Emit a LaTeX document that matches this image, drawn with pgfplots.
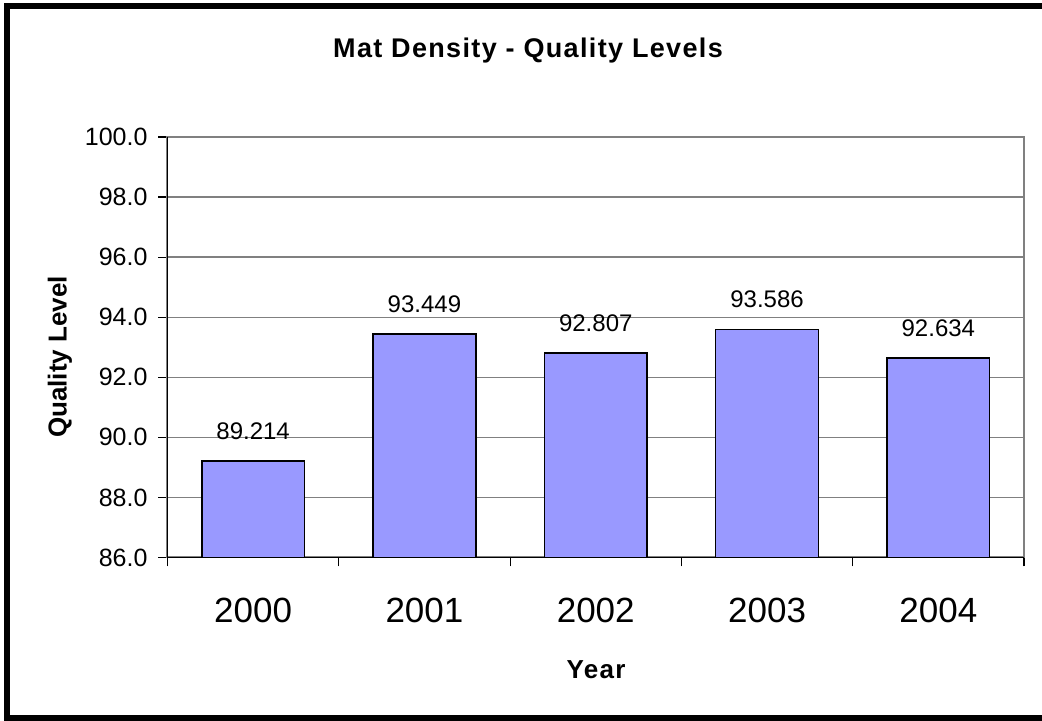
\documentclass[border=0pt]{standalone}
\usepackage{fontspec}
\setmainfont{Liberation Sans}
\newfontfamily\spaced[LetterSpace=5]{Liberation Sans}
\usepackage{pgfplots}
\pgfplotsset{compat=1.18}
\definecolor{barfill}{HTML}{9999FF}
\definecolor{gridgray}{HTML}{808080}

\begin{document}
\begin{tikzpicture}
\useasboundingbox (-83.75pt,-81.75pt) rectangle (437.25pt,278.75pt);
\begin{axis}[
    scale only axis,
    width=428.25pt,
    height=210.25pt,
    ybar,
    bar width=0.6,
    xmin=-0.5, xmax=4.5,
    ymin=86, ymax=100,
    xtick={-0.5,0.5,...,4.5},
    xticklabels={2000,2001,2002,2003,2004},
    x tick label as interval,
    ytick={86,88,...,100},
    yticklabel={\pgfmathprintnumber[fixed,precision=1,zerofill]{\tick}},
    /pgf/number format/assume math mode=true,
    tick align=outside,
    major tick length=4.5pt,
    tick style={black, line width=0.6pt},
    xtick pos=bottom, ytick pos=left,
    ymajorgrids,
    grid style={gridgray, line width=0.7pt},
    axis line style={gridgray, line width=1pt},
    xticklabel style={font=\fontsize{17.5}{20}\selectfont, yshift=-12pt},
    yticklabel style={font=\fontsize{12.5}{14}\selectfont, xshift=-2pt},
    title={\spaced\bfseries Mat Density - Quality Levels},
    title style={font=\fontsize{13.5}{15}\selectfont, at={(axis description cs:0.4209,1.1902)}, anchor=base, yshift=-6pt},
    xlabel={\spaced\bfseries Year},
    xlabel style={font=\fontsize{13}{15}\selectfont, at={(axis description cs:0.5003,-0.2866)}, anchor=base},
    ylabel={\bfseries Quality Level},
    ylabel style={font=\fontsize{13}{15}\selectfont, at={(axis description cs:-0.1177,0.4768)}, anchor=base, rotate=0},
    point meta=explicit symbolic,
    nodes near coords,
    nodes near coords style={font=\fontsize{12}{14}\selectfont, black, yshift=7pt},
    clip=false,
]
\addplot[fill=barfill, draw=black, line width=0.75pt] coordinates {
    (0,89.214) [89.214]
    (1,93.449) [93.449]
    (2,92.807) [92.807]
    (3,93.586) [93.586]
    (4,92.634) [92.634]
};
\draw[black, line width=0.8pt] (rel axis cs:0,1) |- (rel axis cs:1,0);
\end{axis}
\draw[black, line width=3pt] (-80.25pt,-80.25pt) rectangle (445pt,275.75pt);
\end{tikzpicture}
\end{document}
